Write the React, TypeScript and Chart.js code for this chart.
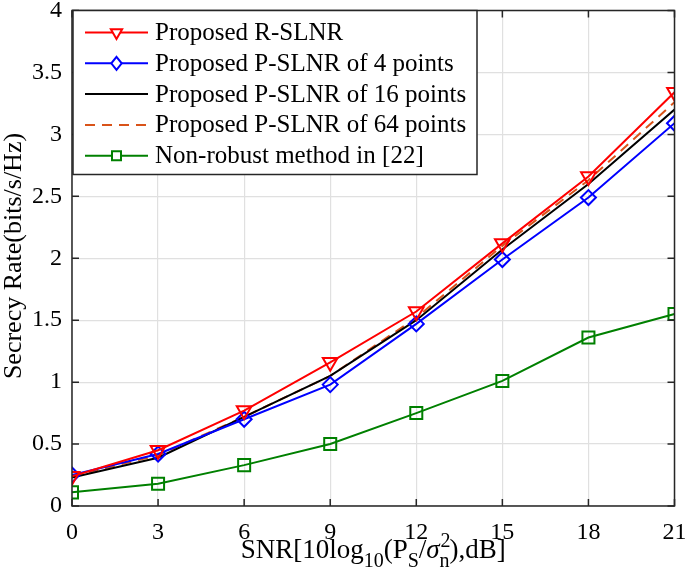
import React, { useEffect, useRef } from 'react';
import { Chart, registerables } from 'chart.js';

Chart.register(...registerables);

const snrValues = [0, 3, 6, 9, 12, 15, 18, 21];
const rSlnr = [0.24, 0.45, 0.77, 1.16, 1.57, 2.12, 2.66, 3.34];
const pSlnr4 = [0.25, 0.42, 0.70, 0.98, 1.47, 1.99, 2.49, 3.09];
const pSlnr16 = [0.23, 0.39, 0.72, 1.05, 1.50, 2.07, 2.60, 3.20];
const pSlnr64 = [0.24, 0.41, 0.72, 1.05, 1.52, 2.10, 2.63, 3.26];
const nonRobust = [0.11, 0.18, 0.33, 0.50, 0.75, 1.01, 1.36, 1.55];

const seriesLabels = [
  'Proposed R-SLNR',
  'Proposed P-SLNR of 4 points',
  'Proposed P-SLNR of 16 points',
  'Proposed P-SLNR of 64 points',
  'Non-robust method in [22]',
];
const seriesColors = ['#ff0000', '#0000ff', '#000000', '#d95319', '#008000'];
const xTickValues = [0, 3, 6, 9, 12, 15, 18, 21];
const yTickValues = [0, 0.5, 1, 1.5, 2, 2.5, 3, 3.5, 4];
const yTitle = 'Secrecy Rate(bits/s/Hz)';

const FONT = '"Liberation Serif", "Times New Roman", serif';

function markerPath(ctx: CanvasRenderingContext2D, style: string, x: number, y: number, r: number) {
  ctx.beginPath();
  if (style === 'tri') {
    ctx.moveTo(x - r * 0.866, y - r * 0.5);
    ctx.lineTo(x + r * 0.866, y - r * 0.5);
    ctx.lineTo(x, y + r);
    ctx.closePath();
  } else if (style === 'dia') {
    ctx.moveTo(x, y - r);
    ctx.lineTo(x + r * 0.8, y);
    ctx.lineTo(x, y + r);
    ctx.lineTo(x - r * 0.8, y);
    ctx.closePath();
  } else if (style === 'sq') {
    ctx.rect(x - r, y - r, 2 * r, 2 * r);
  }
}

function zeroPad(s: any) {
  s.paddingTop = 0;
  s.paddingBottom = 0;
  s.paddingLeft = 0;
  s.paddingRight = 0;
}

const decorPlugin = {
  id: 'decor',
  afterDatasetsDraw(chart: any) {
    const ctx: CanvasRenderingContext2D = chart.ctx;
    const { left, right, top, bottom } = chart.chartArea;
    const xs = chart.scales.x;
    const ys = chart.scales.y;
    ctx.save();
    ctx.strokeStyle = '#262626';
    ctx.lineWidth = 1.5;
    ctx.strokeRect(left, top, right - left, bottom - top);
    const tl = 7;
    ctx.beginPath();
    xTickValues.forEach((v) => {
      const px = xs.getPixelForValue(v);
      ctx.moveTo(px, bottom);
      ctx.lineTo(px, bottom - tl);
      ctx.moveTo(px, top);
      ctx.lineTo(px, top + tl);
    });
    yTickValues.forEach((v) => {
      const py = ys.getPixelForValue(v);
      ctx.moveTo(left, py);
      ctx.lineTo(left + tl, py);
      ctx.moveTo(right, py);
      ctx.lineTo(right - tl, py);
    });
    ctx.stroke();

    // Y title
    ctx.fillStyle = '#000';
    ctx.font = `26px ${FONT}`;
    ctx.textAlign = 'center';
    ctx.textBaseline = 'middle';
    ctx.translate(14, 256);
    ctx.rotate(-Math.PI / 2);
    ctx.fillText(yTitle, 0, 0);
    ctx.restore();

    // X title with sub/superscripts
    ctx.save();
    ctx.fillStyle = '#000';
    ctx.textBaseline = 'alphabetic';
    ctx.textAlign = 'left';
    const segs: Array<[string, number, number, boolean]> = [
      ['SNR[10log', 27, 0, false],
      ['10', 20, 9, false],
      ['(P', 27, 0, false],
      ['S', 20, 9, false],
      ['/', 27, 0, false],
      ['σ', 27, 0, true],
      ['2', 20, -11, false],
      ['n', 20, 9, false],
      ['),dB]', 27, 0, false],
    ];
    let total = 0;
    const widths: number[] = [];
    segs.forEach(([t, s, , it], i) => {
      ctx.font = `${it ? 'italic ' : ''}${s}px ${FONT}`;
      let w = ctx.measureText(t).width;
      if (i === 6) w = 0; // superscript stacks over subscript
      widths.push(w);
      total += w;
    });
    let cx = (left + right) / 2 - total / 2;
    const base = 558;
    segs.forEach(([t, s, dy, it], i) => {
      ctx.font = `${it ? 'italic ' : ''}${s}px ${FONT}`;
      ctx.fillText(t, i === 6 ? cx + 1 : cx, base + dy);
      cx += widths[i];
    });
    ctx.restore();
  },
  afterDraw(chart: any) {
    const ctx: CanvasRenderingContext2D = chart.ctx;
    const { left, top } = chart.chartArea;
    ctx.save();
    const bx = left + 1;
    const by = top;
    const bw = 404;
    const bh = 164;
    ctx.fillStyle = '#fff';
    ctx.fillRect(bx, by, bw, bh);
    ctx.strokeStyle = '#262626';
    ctx.lineWidth = 1.5;
    ctx.strokeRect(bx, by, bw, bh);
    const styles = ['tri', 'dia', 'none', 'none', 'sq'];
    const dashes = [[], [], [], [10, 7], []];
    ctx.font = `25px ${FONT}`;
    ctx.textBaseline = 'middle';
    ctx.textAlign = 'left';
    for (let i = 0; i < seriesLabels.length; i++) {
      const cy = by + 22 + i * 30.8;
      ctx.strokeStyle = seriesColors[i];
      ctx.lineWidth = 2;
      ctx.setLineDash(dashes[i]);
      ctx.beginPath();
      ctx.moveTo(85, cy);
      ctx.lineTo(148, cy);
      ctx.stroke();
      ctx.setLineDash([]);
      if (styles[i] !== 'none') {
        const r = styles[i] === 'sq' ? 4.5 : 6.5;
        markerPath(ctx, styles[i], 116.5, cy, r);
        ctx.fillStyle = '#fff';
        ctx.fill();
        ctx.stroke();
      }
      ctx.fillStyle = '#000';
      ctx.fillText(seriesLabels[i], 155, cy + 1);
    }
    ctx.restore();
  },
};

export default function App() {
  const canvasRef = useRef<HTMLCanvasElement | null>(null);

  useEffect(() => {
    document.body.style.margin = '0';
    const canvas = canvasRef.current;
    if (!canvas) return;
    const seriesData = [rSlnr, pSlnr4, pSlnr16, pSlnr64, nonRobust];
    const pointStyles: any[] = ['triangle', 'rectRot', 'circle', 'circle', 'rect'];
    const pointRadii = [8.5, 7.5, 0, 0, 8.5];
    const chart = new Chart(canvas, {
      type: 'line',
      data: {
        datasets: seriesLabels.map((label, i) => ({
          label,
          data: snrValues.map((x, j) => ({ x, y: seriesData[i][j] })),
          borderColor: seriesColors[i],
          backgroundColor: 'rgba(0,0,0,0)',
          borderWidth: 2,
          borderDash: i === 3 ? [10, 7] : [],
          pointStyle: pointStyles[i],
          pointRotation: i === 0 ? 180 : 0,
          pointRadius: pointRadii[i],
          pointBorderWidth: 2,
          pointBorderColor: seriesColors[i],
          pointBackgroundColor: 'rgba(0,0,0,0)',
          tension: 0,
          fill: false,
        })),
      },
      options: {
        animation: false,
        responsive: false,
        maintainAspectRatio: false,
        layout: { padding: { top: 8, right: 10, left: 0, bottom: 0 } },
        plugins: {
          legend: { display: false },
          tooltip: { enabled: false },
        },
        scales: {
          x: {
            type: 'linear',
            min: 0,
            max: 21,
            afterBuildTicks: (s: any) => {
              s.ticks = xTickValues.map((v) => ({ value: v }));
            },
            afterFit: (s: any) => {
              s.height = 72;
              zeroPad(s);
            },
            grid: { color: '#e0e0e0', lineWidth: 1.2, drawTicks: false },
            border: { display: false },
            ticks: {
              color: '#000',
              padding: 12,
              maxRotation: 0,
              font: { family: FONT, size: 24 },
            },
          },
          y: {
            type: 'linear',
            min: 0,
            max: 4,
            afterBuildTicks: (s: any) => {
              s.ticks = yTickValues.map((v) => ({ value: v }));
            },
            afterFit: (s: any) => {
              s.width = 72;
              zeroPad(s);
            },
            grid: { color: '#e0e0e0', lineWidth: 1.2, drawTicks: false },
            border: { display: false },
            ticks: {
              color: '#000',
              padding: 10,
              font: { family: FONT, size: 24 },
              callback: (v: any) => String(v),
            },
          },
        },
      },
      plugins: [decorPlugin],
    });
    return () => chart.destroy();
  }, []);

  return (
    <div style={{ position: 'absolute', left: 0, top: 0, width: 685, height: 578, background: '#fff' }}>
      <canvas ref={canvasRef} width={685} height={578} style={{ width: 685, height: 578 }} />
    </div>
  );
}
